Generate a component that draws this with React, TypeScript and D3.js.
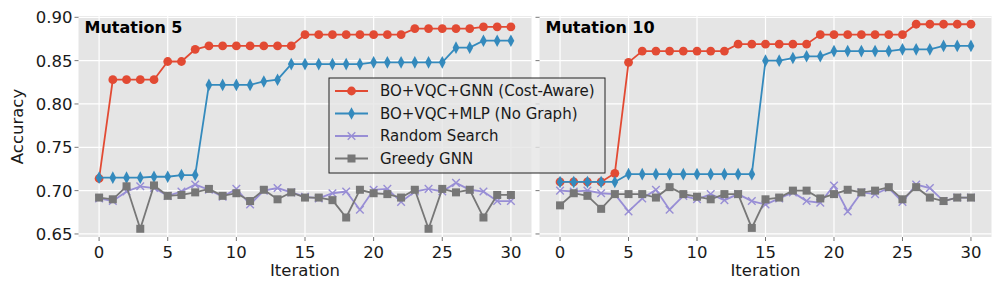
import React from "react";
import * as d3 from "d3";

// iteration index shared by every series
const iterations = d3.range(0, 31);
const xTicks = [0, 5, 10, 15, 20, 25, 30];
const yTicks = [0.65, 0.7, 0.75, 0.8, 0.85, 0.9];

const seriesNames = [
  "BO+VQC+GNN (Cost-Aware)",
  "BO+VQC+MLP (No Graph)",
  "Random Search",
  "Greedy GNN",
];

// Mutation 5
const m5Gnn = [0.714, 0.828, 0.828, 0.828, 0.828, 0.849, 0.849, 0.863, 0.867, 0.867, 0.867, 0.867, 0.867, 0.867, 0.867,
  0.880, 0.880, 0.880, 0.880, 0.880, 0.880, 0.880, 0.880, 0.887, 0.887, 0.887, 0.887, 0.887, 0.889, 0.889, 0.889];
const m5Mlp = [0.715, 0.715, 0.715, 0.715, 0.716, 0.716, 0.718, 0.718, 0.822, 0.822, 0.822, 0.822, 0.826, 0.828, 0.846,
  0.846, 0.846, 0.846, 0.846, 0.846, 0.848, 0.848, 0.848, 0.848, 0.848, 0.848, 0.865, 0.865, 0.873, 0.873, 0.873];
const m5Random = [0.691, 0.688, 0.699, 0.705, 0.703, 0.694, 0.699, 0.707, 0.701, 0.693, 0.702, 0.684, 0.700, 0.703, 0.698,
  0.693, 0.691, 0.697, 0.699, 0.678, 0.701, 0.702, 0.687, 0.699, 0.702, 0.699, 0.709, 0.701, 0.699, 0.688, 0.688];
const m5Greedy = [0.692, 0.690, 0.705, 0.656, 0.706, 0.694, 0.695, 0.698, 0.702, 0.694, 0.697, 0.688, 0.701, 0.690, 0.698,
  0.692, 0.692, 0.689, 0.669, 0.701, 0.697, 0.696, 0.692, 0.701, 0.656, 0.702, 0.698, 0.701, 0.669, 0.695, 0.695];

// Mutation 10
const m10Gnn = [0.710, 0.710, 0.710, 0.710, 0.720, 0.848, 0.861, 0.861, 0.861, 0.861, 0.861, 0.861, 0.861, 0.869, 0.869,
  0.869, 0.869, 0.869, 0.869, 0.880, 0.880, 0.880, 0.880, 0.880, 0.880, 0.880, 0.892, 0.892, 0.892, 0.892, 0.892];
const m10Mlp = [0.710, 0.710, 0.710, 0.710, 0.710, 0.719, 0.719, 0.719, 0.719, 0.719, 0.719, 0.719, 0.719, 0.719, 0.719,
  0.850, 0.850, 0.853, 0.855, 0.855, 0.861, 0.861, 0.861, 0.861, 0.861, 0.863, 0.863, 0.863, 0.867, 0.867, 0.867];
const m10Random = [0.700, 0.699, 0.700, 0.697, 0.696, 0.676, 0.691, 0.701, 0.678, 0.694, 0.690, 0.696, 0.689, 0.696, 0.688,
  0.684, 0.691, 0.698, 0.688, 0.686, 0.706, 0.676, 0.698, 0.696, 0.703, 0.687, 0.707, 0.703, 0.688, 0.692, 0.692];
const m10Greedy = [0.683, 0.697, 0.694, 0.679, 0.696, 0.696, 0.696, 0.692, 0.704, 0.696, 0.693, 0.690, 0.696, 0.696, 0.657,
  0.690, 0.692, 0.700, 0.700, 0.691, 0.696, 0.701, 0.698, 0.700, 0.704, 0.690, 0.704, 0.692, 0.688, 0.692, 0.692];

const colors = ["#E24A33", "#348ABD", "#988ED5", "#777777"];
const FONT = "DejaVu Sans";

const panels = [
  { title: "Mutation 5", left: 78.5, right: 531.5, series: [m5Gnn, m5Mlp, m5Random, m5Greedy], yLabels: true },
  { title: "Mutation 10", left: 539.5, right: 991.5, series: [m10Gnn, m10Mlp, m10Random, m10Greedy], yLabels: false },
];

const TOP = 16;
const BOTTOM = 237;

const Marker = ({ kind, x, y, color }) => {
  if (kind === 0) return <circle cx={x} cy={y} r={4.4} fill={color} />;
  if (kind === 1)
    return <path d={`M${x},${y - 6.3}L${x + 3.4},${y}L${x},${y + 6.3}L${x - 3.4},${y}Z`} fill={color} />;
  if (kind === 2)
    return (
      <path
        d={`M${x - 3.8},${y - 3.8}L${x + 3.8},${y + 3.8}M${x - 3.8},${y + 3.8}L${x + 3.8},${y - 3.8}`}
        stroke={color}
        strokeWidth={1.4}
      />
    );
  return <rect x={x - 4} y={y - 4} width={8} height={8} fill={color} />;
};

const Panel = ({ p }) => {
  const x = d3.scaleLinear().domain([-1.5, 31.5]).range([p.left, p.right]);
  const y = d3.scaleLinear().domain([0.6465, 0.9015]).range([BOTTOM, TOP]);
  const line = d3.line<number>().x((_, i) => x(iterations[i])).y((d) => y(d));

  return (
    <g>
      <rect x={p.left} y={TOP} width={p.right - p.left} height={BOTTOM - TOP} fill="#E5E5E5" />
      {xTicks.map((t) => (
        <g key={"x" + t}>
          <line x1={x(t)} x2={x(t)} y1={TOP} y2={BOTTOM} stroke="#fff" strokeWidth={1.2} />
          <line x1={x(t)} x2={x(t)} y1={BOTTOM} y2={BOTTOM + 4} stroke="#777" strokeWidth={1} />
          <text x={x(t)} y={258} textAnchor="middle" fontSize={16.5} fill="#1a1a1a">{t}</text>
        </g>
      ))}
      {yTicks.map((t) => (
        <g key={"y" + t}>
          <line x1={p.left} x2={p.right} y1={y(t)} y2={y(t)} stroke="#fff" strokeWidth={1.2} />
          <line x1={p.left - 4} x2={p.left} y1={y(t)} y2={y(t)} stroke="#777" strokeWidth={1} />
          {p.yLabels && (
            <text x={p.left - 6} y={y(t)} dy="0.36em" textAnchor="end" fontSize={16.5} fill="#1a1a1a">
              {t.toFixed(2)}
            </text>
          )}
        </g>
      ))}
      {p.series.map((s, k) => (
        <g key={"s" + k}>
          <path d={line(s) ?? ""} fill="none" stroke={colors[k]} strokeWidth={1.8} />
          {s.map((v, i) => (
            <Marker key={i} kind={k} x={x(iterations[i])} y={y(v)} color={colors[k]} />
          ))}
        </g>
      ))}
      <text x={p.left + 6} y={33} fontSize={16} fontWeight="bold" fill="#000">{p.title}</text>
      <text x={(p.left + p.right) / 2} y={276} textAnchor="middle" fontSize={16.5} fill="#1a1a1a">Iteration</text>
    </g>
  );
};

const Legend = () => {
  const lx = 329, ly = 78, rowH = 22.5;
  return (
    <g>
      <rect x={lx} y={ly} width={276} height={95} fill="#E5E5E5" fillOpacity={0.8} stroke="#222" strokeWidth={1} />
      {seriesNames.map((name, k) => {
        const cy = ly + 13 + k * rowH;
        return (
          <g key={name}>
            <line x1={lx + 6} x2={lx + 39} y1={cy} y2={cy} stroke={colors[k]} strokeWidth={1.8} />
            <Marker kind={k} x={lx + 22.5} y={cy} color={colors[k]} />
            <text x={lx + 51} y={cy} dy="0.35em" fontSize={15} fill="#1a1a1a">{name}</text>
          </g>
        );
      })}
    </g>
  );
};

export default function App() {
  return (
    <svg
      width={997}
      height={296}
      style={{ position: "absolute", left: 0, top: 0, background: "#fff" }}
      fontFamily={FONT}
    >
      {panels.map((p) => (
        <Panel key={p.title} p={p} />
      ))}
      <text transform={`translate(23,126.5) rotate(-90)`} textAnchor="middle" fontSize={16.5} fill="#1a1a1a">
        Accuracy
      </text>
      <Legend />
    </svg>
  );
}
